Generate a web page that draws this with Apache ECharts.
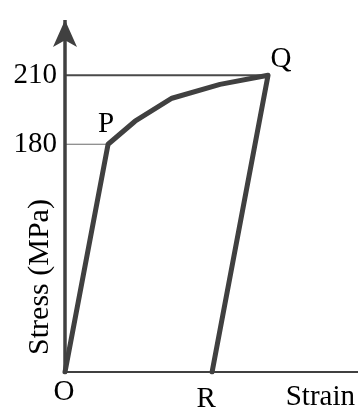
<!DOCTYPE html>
<html>
<head>
<meta charset="utf-8">
<script src="https://cdn.jsdelivr.net/npm/echarts@6/dist/echarts.min.js"></script>
<style>
html,body{margin:0;padding:0;background:#fff;}
#chart{width:358px;height:415px;}
</style>
</head>
<body>
<div id="chart"></div>
<script>
// Schematic stress-strain path O -> P -> Q -> R
const strain = [0, 1.47, 2.39, 3.65, 5.29, 6.93, 5.02];
const stress = [0, 180, 190, 200, 206, 210, 0];
const pointNames = ['O', 'P', '', '', '', 'Q', 'R'];
const yTickLabels = [180, 210];
const stressAxisMax = 234;
const strainAxisMax = 10;

const FONT = "'Liberation Serif', 'Times New Roman', Times, serif";
const INK = '#404040';
const FS = 29;

const labelPlacement = {
  O: { position: 'bottom', offset: [-1, 0] },
  P: { position: 'top', offset: [-2, 0] },
  Q: { position: 'top', offset: [13, 4] },
  R: { position: 'bottom', offset: [-6, 7] }
};

const pathData = strain.map((x, i) => {
  const name = pointNames[i];
  const item = { value: [x, stress[i]], name: name };
  if (name) {
    item.label = Object.assign({ show: true, formatter: name }, labelPlacement[name]);
  }
  return item;
});

const iP = pointNames.indexOf('P');
const iQ = pointNames.indexOf('Q');
const guideP = [[0, stress[iP]], [strain[iP], stress[iP]]];
const guideQ = [[0, stress[iQ]], [strain[iQ], stress[iQ]]];

const chart = echarts.init(document.getElementById('chart'), null, { renderer: 'canvas' });
chart.setOption({
  animation: false,
  backgroundColor: '#fff',
  grid: { left: 65, right: 0, top: 20, bottom: 43, containLabel: false, outerBoundsMode: 'none' },
  xAxis: {
    type: 'value',
    min: 0,
    max: strainAxisMax,
    name: 'Strain',
    nameLocation: 'end',
    nameGap: -3,
    nameTextStyle: { fontFamily: FONT, fontSize: FS, color: '#000', align: 'right', verticalAlign: 'top', padding: [11, 0, 0, 0] },
    axisLine: { show: true, onZero: true, lineStyle: { color: INK, width: 2 } },
    axisTick: { show: false },
    axisLabel: { show: false },
    splitLine: { show: false }
  },
  yAxis: {
    type: 'value',
    min: 0,
    max: stressAxisMax,
    breaks: [{ start: 20, end: 120, gap: 19 }],
    breakArea: {
      show: true,
      zigzagAmplitude: 0,
      itemStyle: { color: 'rgba(0,0,0,0)', borderColor: 'rgba(0,0,0,0)', borderWidth: 0, opacity: 0 }
    },
    name: 'Stress (MPa)',
    nameLocation: 'middle',
    nameGap: 10,
    nameMoveOverlap: false,
    nameTextStyle: { fontFamily: FONT, fontSize: 30, color: '#000', padding: [0, 162, 0, 0] },
    axisLine: { show: false },
    axisTick: { show: false },
    axisLabel: {
      show: true,
      customValues: yTickLabels,
      fontFamily: FONT,
      fontSize: FS,
      color: '#000',
      margin: 8
    },
    splitLine: { show: false }
  },
  series: [
    {
      type: 'line',
      data: guideQ,
      symbol: 'none',
      silent: true,
      lineStyle: { color: '#4a4a4a', width: 2 },
      z: 1,
      markLine: {
        silent: true,
        animation: false,
        label: { show: false },
        symbol: ['none', 'arrow'],
        symbolSize: [18, 27],
        lineStyle: { color: INK, width: 3.5, type: 'solid', opacity: 1 },
        emphasis: { disabled: true },
        data: [[{ coord: [0, 0] }, { coord: [0, stressAxisMax] }]]
      }
    },
    {
      type: 'line',
      data: guideP,
      symbol: 'none',
      silent: true,
      lineStyle: { color: '#6a6a6a', width: 1 },
      z: 1
    },
    {
      type: 'line',
      data: pathData,
      symbol: 'circle',
      symbolSize: 1,
      itemStyle: { color: INK },
      lineStyle: { color: INK, width: 5, join: 'round', cap: 'round' },
      label: { show: false, fontFamily: FONT, fontSize: FS, color: '#000', distance: 5 },
      z: 3
    }
  ]
});
</script>
</body>
</html>
